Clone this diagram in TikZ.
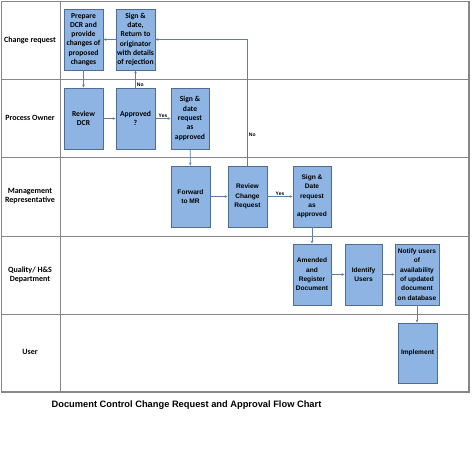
\documentclass[tikz,border=0pt]{standalone}
\usepackage{fontspec}
\setmainfont{Carlito}
\newfontfamily\arialfont{Liberation Sans}
\usetikzlibrary{positioning, arrows.meta}
\definecolor{BoxBlue}{RGB}{141, 180, 226}
\definecolor{BoxEdge}{RGB}{80, 108, 145}
\definecolor{FlowLine}{RGB}{95, 125, 165}
\definecolor{LaneGray}{RGB}{135, 135, 135}

\tikzset{
  stepbox/.style={draw=BoxEdge, line width=0.9pt, fill=BoxBlue, align=center,
    minimum width=39pt, minimum height=61pt, inner sep=1pt,
    font=\fontsize{7.6}{9.3}\selectfont\bfseries},
  stepboxa/.style={stepbox, font=\fontsize{6.6}{9.3}\selectfont\arialfont\bfseries},
  flow/.style={draw=FlowLine, line width=0.8pt, -{Stealth[length=3pt, width=2.6pt]}},
  lanelabel/.style={align=center, font=\fontsize{8}{9.5}\selectfont\bfseries},
  tag/.style={font=\fontsize{5}{6}\selectfont\arialfont\bfseries, inner sep=1pt}
}

\begin{document}
\begin{tikzpicture}[x=1pt, y=-1pt]
    \useasboundingbox (0,0) rectangle (474,470);

    % Swim lanes
    \draw[LaneGray, line width=1.2pt] (1.5,1.5) rectangle (469,392);
    \foreach \y in {79, 157, 236, 314}
      \draw[LaneGray, line width=0.9pt] (1.5,\y) -- (469,\y);
    \draw[LaneGray, line width=0.9pt] (60,1.5) -- (60,392);

    \node[lanelabel] (lcr) at (30,40) {Change request};
    \node[lanelabel] (lpo) at (30,118) {Process Owner};
    \node[lanelabel] (lmr) at (30,196) {Management\\Representative};
    \node[lanelabel] (lqa) at (30,275) {Quality/ H\&S\\Department};
    \node[lanelabel] (lus) at (30,352) {User};

    % Steps
    \node[stepbox] (prep) at (83.5,39.5) {Prepare\\DCR and\\provide\\changes of\\proposed\\changes};
    \node[stepbox] (ret) at (135.5,39.5) {Sign \&\\date,\\Return to\\originator\\with details\\of rejection};
    \node[stepbox] (review) at (83.5,118.5) {Review\\DCR};
    \node[stepbox] (appr) at (135.5,118.5) {Approved\\?};
    \node[stepbox, minimum width=38pt] (signpo) at (190,118.5) {Sign \&\\date\\request\\as\\approved};
    \node[stepboxa] (fwd) at (190.5,196.5) {Forward\\to MR};
    \node[stepboxa] (rcr) at (247.5,196.5) {Review\\Change\\Request};
    \node[stepboxa, minimum width=38pt] (signmr) at (312,196.5) {Sign \&\\Date\\request\\as\\approved};
    \node[stepboxa, minimum width=38pt] (amend) at (312,274.5) {Amended\\and\\Register\\Document};
    \node[stepboxa, minimum width=37pt] (ident) at (363.5,274.5) {Identify\\Users};
    \node[stepboxa, minimum width=44pt] (notify) at (417,274.5) {Notify users\\of\\availability\\of updated\\document\\on database};
    \node[stepboxa, minimum height=60pt] (impl) at (417.5,353) {Implement};

    % Connectors
    \draw[flow] (prep) -- (review);
    \draw[flow] (review) -- (appr);
    \draw[flow] (appr) -- node[tag, pos=0.15, right] {No} (ret);
    \draw[flow] (ret) -- (prep);
    \draw[flow] (appr) -- node[tag, above] {Yes} (signpo);
    \draw[flow] (signpo) -- (fwd);
    \draw[flow] (fwd) -- (rcr);
    \draw[flow] (rcr.north) |- node[tag, pos=0.12, right] {No} (ret.east);
    \draw[flow] (rcr) -- node[tag, above] {Yes} (signmr);
    \draw[flow] (signmr) -- (amend);
    \draw[flow] (amend) -- (ident);
    \draw[flow] (ident) -- (notify);
    \draw[flow] (notify.south) -- (notify.south |- impl.north);

    % Title
    \node[font=\fontsize{9.3}{11}\selectfont\arialfont\bfseries] (title) at (186.5,405)
      {Document Control Change Request and Approval Flow Chart};
\end{tikzpicture}
\end{document}
